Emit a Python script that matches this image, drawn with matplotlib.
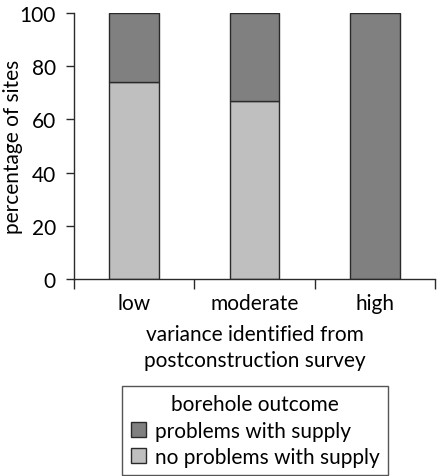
import matplotlib
matplotlib.use("Agg")
import matplotlib.pyplot as plt
from matplotlib.patches import Patch
import numpy as np

categories = ["low", "moderate", "high"]
no_problems = [74, 67, 0]
problems = [26, 33, 100]
yticks = [0, 20, 40, 60, 80, 100]

plt.rcParams['font.family'] = ['Lato', 'DejaVu Sans']
FS = 15

fig = plt.figure(figsize=(4.38, 4.77), dpi=100)
ax = fig.add_axes([74/438, 1 - 280/477, (435-74)/438, (280-14)/477])

x = np.arange(len(categories))
light = "#bfbfbf"
dark = "#808080"
edge = "#2a2a2a"
ax.bar(x, no_problems, width=0.41, color=light, edgecolor=edge, linewidth=1.0)
ax.bar(x, problems, width=0.41, bottom=no_problems, color=dark, edgecolor=edge, linewidth=1.0)

ax.set_xlim(-0.5, 2.5)
ax.set_ylim(0, 100)
ax.set_yticks(yticks)
ax.set_xticks(x)
ax.set_xticklabels(categories)
ax.set_xticks([-0.5, 0.5, 1.5, 2.5], minor=True)
ax.tick_params(axis='x', which='major', length=0, labelsize=FS, pad=10)
ax.tick_params(axis='x', which='minor', length=7, direction='out', width=1, color=edge)
ax.tick_params(axis='y', labelsize=FS, length=6, width=1, color=edge, pad=7)
for s in ['top', 'right']:
    ax.spines[s].set_visible(False)
for s in ['left', 'bottom']:
    ax.spines[s].set_color(edge)
    ax.spines[s].set_linewidth(1)
ax.set_ylabel("percentage of sites", fontsize=FS)
ax.yaxis.set_label_coords(-0.14, 0.5)
ax.set_xlabel("variance identified from\npostconstruction survey", fontsize=FS, labelpad=8, linespacing=1.4)

handles = [Patch(facecolor=dark, edgecolor=edge), Patch(facecolor=light, edgecolor=edge)]
leg = fig.legend(handles, ["problems with supply", "no problems with supply"],
                 title="borehole outcome", loc='upper center', bbox_to_anchor=(255/438, 1 - 387/477),
                 fontsize=FS, title_fontsize=FS, frameon=True, fancybox=False,
                 edgecolor=edge, handlelength=0.75, handleheight=0.75, handletextpad=0.4,
                 borderpad=0.4, labelspacing=0.3, borderaxespad=0)
leg.get_frame().set_linewidth(1)

fig.savefig("out.png", dpi=100)
